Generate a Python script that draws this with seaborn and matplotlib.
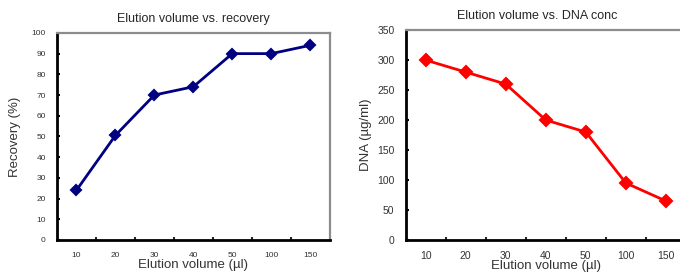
import pandas as pd
import numpy as np
import matplotlib
matplotlib.use("Agg")
import matplotlib.pyplot as plt
import seaborn as sns
from matplotlib.ticker import FixedLocator

# data
volumes = ['10', '20', '30', '40', '50', '100', '150']
recovery = [24, 50.5, 70, 74, 90, 90, 94]
dna_conc = [300, 280, 260, 200, 180, 95, 65]

sns.set_style("white")
plt.rcParams['font.family'] = ['Liberation Sans', 'DejaVu Sans']

df = pd.DataFrame({'volume': volumes, 'recovery': recovery, 'dna': dna_conc})

fig = plt.figure(figsize=(6.8, 2.79), dpi=100)
ax1 = fig.add_axes([0.0838, 0.140, 0.401, 0.742])
ax2 = fig.add_axes([0.5966, 0.140, 0.412, 0.752])


def style_axis(ax, ymax, ystep, tick_fs, xpad):
    for side in ['left', 'bottom']:
        ax.spines[side].set_color('black')
        ax.spines[side].set_linewidth(2)
    for side in ['top', 'right']:
        ax.spines[side].set_color('#8c8c8c')
        ax.spines[side].set_linewidth(1.6)
    ax.set_xlim(-0.5, 6.5)
    ax.set_ylim(0, ymax)
    ax.set_yticks(np.arange(0, ymax + 1, ystep))
    ax.set_xticks(range(len(volumes)))
    ax.set_xticklabels(volumes)
    ax.xaxis.set_minor_locator(FixedLocator(np.arange(0.5, 6, 1)))
    ax.tick_params(axis='x', which='major', length=0, pad=xpad, labelsize=tick_fs, colors='#333333')
    ax.tick_params(axis='x', which='minor', direction='in', length=2.5, width=1.5, bottom=True)
    ax.tick_params(axis='y', direction='in', length=2.5, width=1.5, left=True,
                   pad=8, labelsize=tick_fs, colors='black', labelcolor='#333333')


sns.pointplot(data=df, x='volume', y='recovery', ax=ax1, color='#000080',
              markers='D', linestyles='-', linewidth=2, markersize=5.5)
style_axis(ax1, 100, 10, 6, 9)
ax1.set_title('Elution volume vs. recovery', fontsize=9, pad=8)
ax1.set_xlabel('Elution volume (\u00b5l)', fontsize=9.5, labelpad=0, color='#333333')
ax1.set_ylabel('Recovery (%)', fontsize=9.5, labelpad=8, color='#333333')

sns.pointplot(data=df, x='volume', y='dna', ax=ax2, color='#ff0000',
              markers='D', linestyles='-', linewidth=2, markersize=6)
style_axis(ax2, 350, 50, 7.5, 8)
ax2.set_title('Elution volume vs. DNA conc', fontsize=9, pad=8, x=0.47)
ax2.set_xlabel('Elution volume (\u00b5l)', fontsize=9.5, labelpad=-1, color='#333333')
ax2.set_ylabel('DNA (\u00b5g/ml)', fontsize=9.5, labelpad=4, color='#333333')

fig.savefig('out.png', dpi=100)
